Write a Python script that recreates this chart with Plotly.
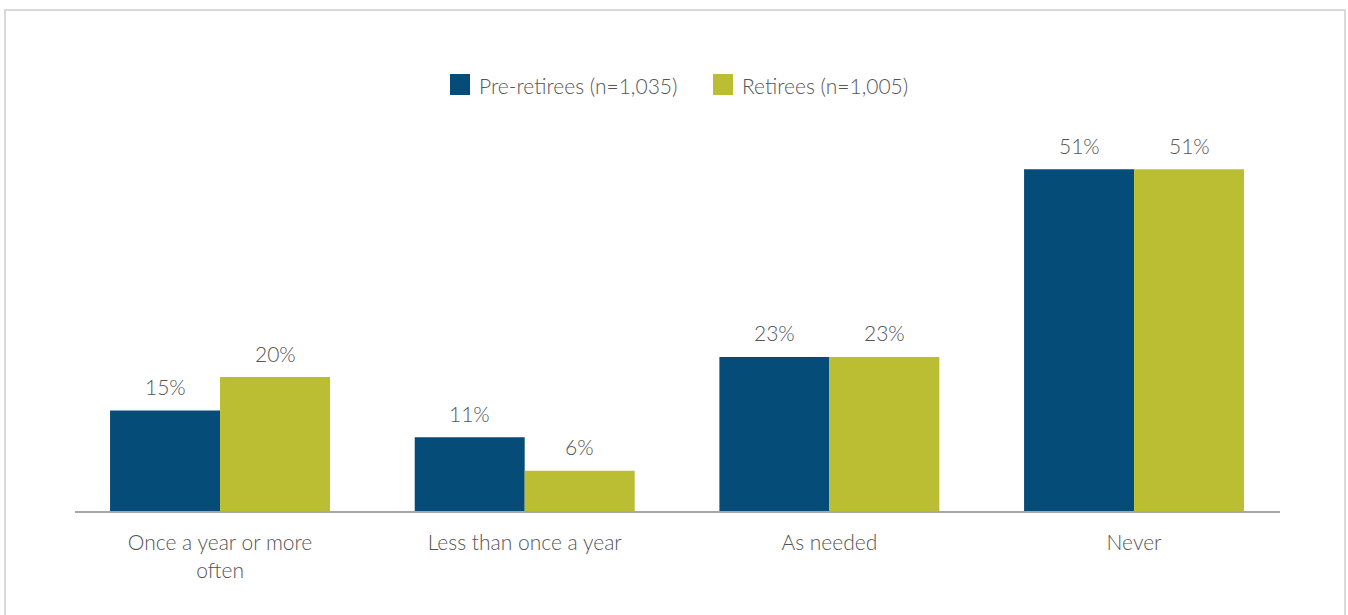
import plotly.graph_objects as go

categories = ["Once a year or more<br>often", "Less than once a year", "As needed", "Never"]
pre_retirees = [15, 11, 23, 51]
retirees = [20, 6, 23, 51]
series_names = ["Pre-retirees (n=1,035)", "Retirees (n=1,005)"]

BLUE = "#064c79"
GREEN = "#bbbe33"
TEXT = "#555555"
FONT = "Lato"
FSIZE = 21
BARGAP = 0.278

fig = go.Figure()
series = [(series_names[0], pre_retirees, BLUE), (series_names[1], retirees, GREEN)]
for name, vals, color in series:
    fig.add_trace(go.Bar(
        x=list(range(len(categories))), y=vals, name=name,
        marker=dict(color=color, line=dict(width=0)),
        showlegend=False,
    ))

# value labels centred over each bar of the group
bar_w = (1 - BARGAP) / len(series)
for k, (name, vals, color) in enumerate(series):
    offset = (k - (len(series) - 1) / 2) * bar_w
    for i, v in enumerate(vals):
        fig.add_annotation(x=i + offset, y=v, text=f"{v}%", showarrow=False,
                           xanchor="center", yanchor="middle", yshift=24,
                           font=dict(size=FSIZE, color=TEXT, family=FONT, weight=300))

# legend drawn as swatches + labels above the bars
legend_items = [(series_names[0], BLUE, 450), (series_names[1], GREEN, 713)]
W = 1205.0
H = 402.0
for name, color, px in legend_items:
    x0 = (px - 75) / W
    fig.add_shape(type="rect", xref="paper", yref="paper",
                  x0=x0, x1=x0 + 20 / W, y0=(511 - 95) / H, y1=(511 - 74) / H,
                  fillcolor=color, line=dict(width=0))
    fig.add_annotation(xref="paper", yref="paper", x=x0 + 27 / W, y=(511 - 85) / H,
                       text=name, showarrow=False, xanchor="left", yanchor="middle",
                       font=dict(size=FSIZE, color=TEXT, family=FONT, weight=300))

# outer frame
fig.add_shape(type="rect", xref="paper", yref="paper",
              x0=(5 - 75) / W, x1=(1345 - 75) / W, y0=(511 - 640) / H, y1=(511 - 10) / H,
              line=dict(color="#d9d9d9", width=2), fillcolor="rgba(0,0,0,0)", layer="below")

fig.update_layout(
    width=1348, height=615,
    margin=dict(l=75, r=68, t=109, b=104),
    barmode="group", bargap=BARGAP, bargroupgap=0,
    paper_bgcolor="white", plot_bgcolor="white",
    font=dict(family=FONT, color=TEXT, size=FSIZE),
    xaxis=dict(range=[-0.476, 3.479], tickmode="array",
               tickvals=list(range(len(categories))), ticktext=categories,
               showline=True, linecolor="#a6a6a6", linewidth=2,
               ticks="outside", ticklen=12, tickcolor="rgba(0,0,0,0)",
               showgrid=False, zeroline=False,
               tickfont=dict(size=FSIZE, color=TEXT, family=FONT, weight=300)),
    yaxis=dict(range=[0, 60], visible=False, showgrid=False, zeroline=False),
)

fig.write_html("out.html")
